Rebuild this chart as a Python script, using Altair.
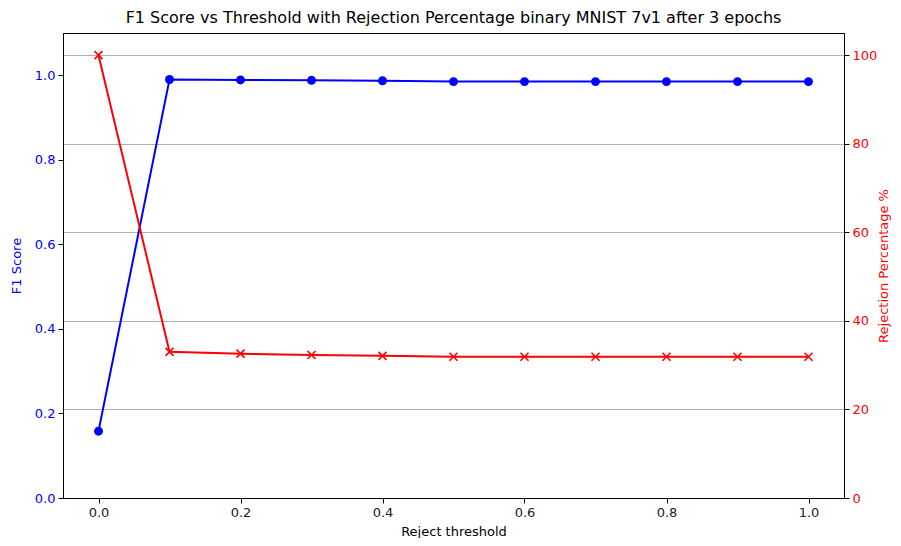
import altair as alt
import pandas as pd

thresholds = [0.0, 0.1, 0.2, 0.3, 0.4, 0.5, 0.6, 0.7, 0.8, 0.9, 1.0]
f1_scores = [0.158, 0.990, 0.989, 0.988, 0.987, 0.985, 0.985, 0.985, 0.985, 0.985, 0.985]
rejection_pct = [100.0, 33.0, 32.6, 32.3, 32.1, 31.9, 31.9, 31.9, 31.9, 31.9, 31.9]

df = pd.DataFrame({"threshold": thresholds, "f1": f1_scores, "rej": rejection_pct})

FONT = "DejaVu Sans"
BLUE = "#0000ff"
RED = "#ff0000"

x_enc = alt.X(
    "threshold:Q",
    title="Reject threshold",
    scale=alt.Scale(domain=[-0.05, 1.05], nice=False, zero=False),
    axis=alt.Axis(values=[0.0, 0.2, 0.4, 0.6, 0.8, 1.0], format=".1f", grid=False,
                  labelColor="#222222", titleColor="#000000", labelFlush=False),
)

base = alt.Chart(df)

y_left = alt.Y(
    "f1:Q",
    title="F1 Score",
    scale=alt.Scale(domain=[0, 1.1], nice=False, zero=False),
    axis=alt.Axis(values=[0.0, 0.2, 0.4, 0.6, 0.8, 1.0], format=".1f", grid=False,
                  labelColor=BLUE, titleColor=BLUE, orient="left", titlePadding=11),
)

left_line = base.mark_line(color=BLUE, strokeWidth=2).encode(x=x_enc, y=y_left)
left_pts = base.mark_point(color=BLUE, filled=True, size=80, opacity=1, shape="circle").encode(x=x_enc, y=y_left)
left = alt.layer(left_line, left_pts)

y_right = alt.Y(
    "rej:Q",
    title="Rejection Percentage %",
    scale=alt.Scale(domain=[0, 105], nice=False, zero=False),
    axis=alt.Axis(values=[0, 20, 40, 60, 80, 100], format="d", grid=True, gridColor="#b0b0b0",
                  gridWidth=1, labelColor=RED, titleColor=RED, orient="right",
                  titleAngle=270, titleBaseline="top", titlePadding=1, labelPadding=3),
)

right_line = base.mark_line(color=RED, strokeWidth=2).encode(x=x_enc, y=y_right)
right_pts = base.mark_point(
    color=RED, filled=False, size=64, opacity=1, strokeWidth=1.6,
    shape="M-1,-1L1,1M-1,1L1,-1",
).encode(x=x_enc, y=y_right)
right = alt.layer(right_line, right_pts)

chart = alt.layer(left, right).resolve_scale(y="independent").properties(
    width=781,
    height=465,
    title=alt.TitleParams(
        "F1 Score vs Threshold with Rejection Percentage binary MNIST 7v1 after 3 epochs",
        font=FONT, fontSize=16, fontWeight="normal", color="#000000", anchor="middle", offset=7,
    ),
    autosize=alt.AutoSizeParams(type="none"),
    padding={"left": 55, "top": 25, "right": 49, "bottom": 40},
).configure_view(
    stroke="#000000", strokeWidth=1,
).configure_axis(
    domainColor="#000000", domainWidth=1, tickColor="#000000", tickSize=5, tickWidth=1,
    labelFont=FONT, titleFont=FONT, labelFontSize=13, titleFontSize=13,
    titleFontWeight="normal", labelPadding=3, titlePadding=6,
)

chart.save("out.html", embed_options={"renderer": "svg", "actions": False})
